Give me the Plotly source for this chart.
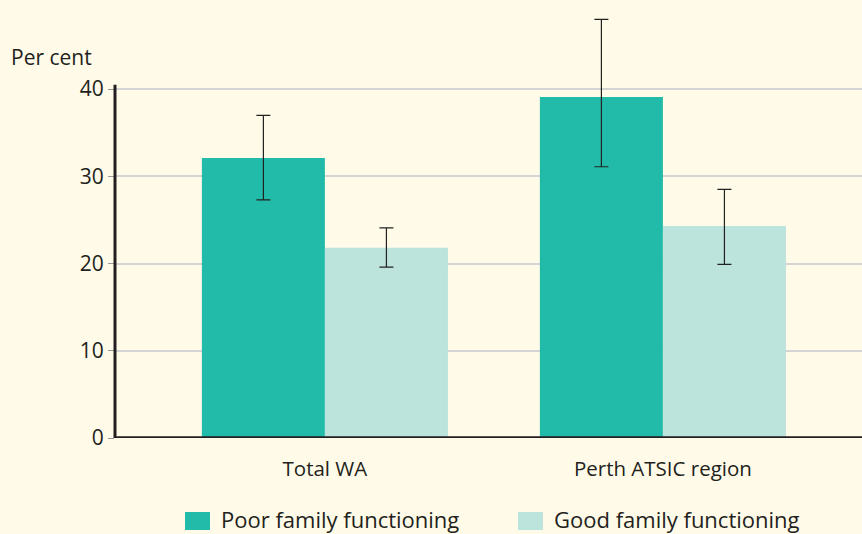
import plotly.graph_objects as go

categories = ["Total WA", "Perth ATSIC region"]
poor = [32.1, 39.1]
poor_hi = [37.0, 48.0]
poor_lo = [27.3, 31.1]
good = [21.8, 24.3]
good_hi = [24.1, 28.5]
good_lo = [19.6, 19.9]
series_names = ["Poor family functioning", "Good family functioning"]
y_ticks = [0, 10, 20, 30, 40]

POOR_C = "#22bba9"
GOOD_C = "#bde3dd"
BG = "#fffbe8"
FONT = "Open Sans"

fig = go.Figure()
for name, vals, hi, lo, col in [
    (series_names[0], poor, poor_hi, poor_lo, POOR_C),
    (series_names[1], good, good_hi, good_lo, GOOD_C),
]:
    fig.add_trace(go.Bar(
        x=categories, y=vals, name=name, marker=dict(color=col, line=dict(width=0)),
        cliponaxis=False,
        error_y=dict(type="data", symmetric=False,
                     array=[h - v for h, v in zip(hi, vals)],
                     arrayminus=[v - l for v, l in zip(vals, lo)],
                     color="#222222", thickness=1.2, width=7),
        showlegend=False,
    ))

fig.update_layout(
    width=862, height=534,
    paper_bgcolor=BG, plot_bgcolor=BG,
    margin=dict(l=115, r=0, t=15, b=96),
    barmode="group", bargap=0.272, bargroupgap=0,
    font=dict(family=FONT, size=21, color="#231f20"),
    xaxis=dict(type="category", range=[-0.621, 1.589], showgrid=False,
               showline=False, ticks="", tickfont=dict(size=20.5),
               ticklabelstandoff=16),
    yaxis=dict(range=[0, 48.5], tickvals=y_ticks, showline=False,
               showgrid=True, gridcolor="#d4d4d4", gridwidth=1.5,
               ticks="outside", ticklen=6, tickcolor="#999999", tickwidth=1,
               zeroline=False, tickfont=dict(size=21)),
    shapes=[
        dict(type="line", xref="paper", yref="y", x0=0, x1=1, y0=0, y1=0,
             line=dict(color="#231f20", width=3.5)),
        dict(type="line", xref="paper", yref="y", x0=0, x1=0, y0=-0.2, y1=40.5,
             line=dict(color="#231f20", width=3)),
        dict(type="rect", xref="paper", yref="paper", x0=(185-115)/747, x1=(210-115)/747,
             y0=-(512-438)/423, y1=-(530-438)/423, fillcolor=POOR_C, line=dict(width=0)),
        dict(type="rect", xref="paper", yref="paper", x0=(518-115)/747, x1=(543-115)/747,
             y0=-(512-438)/423, y1=-(530-438)/423, fillcolor=GOOD_C, line=dict(width=0)),
    ],
    annotations=[
        dict(text="Per cent", xref="paper", yref="paper", x=-(115-9)/747, y=(438-57)/423,
             xanchor="left", yanchor="middle", showarrow=False, font=dict(size=21)),
        dict(text=series_names[0], xref="paper", yref="paper", x=(219-115)/747, y=-(519-438)/423,
             xanchor="left", yanchor="middle", showarrow=False, font=dict(size=22)),
        dict(text=series_names[1], xref="paper", yref="paper", x=(552-115)/747, y=-(519-438)/423,
             xanchor="left", yanchor="middle", showarrow=False, font=dict(size=22)),
    ],
)

fig.write_html("out.html", config={"displayModeBar": False},
               post_script="document.body.style.margin='0';")
